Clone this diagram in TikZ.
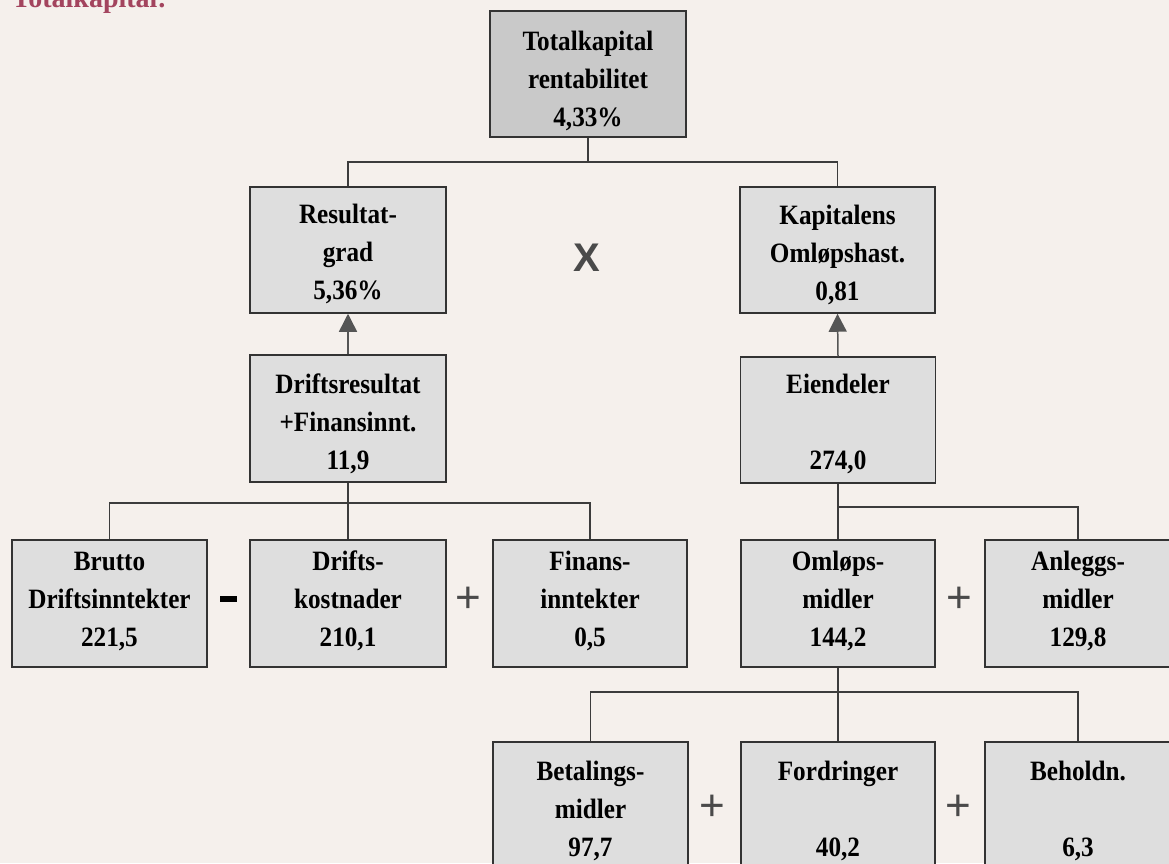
\documentclass[tikz,border=0pt]{standalone}
\usepackage{fontspec}
\setmainfont{Liberation Serif}
\newfontfamily\boxfont[FakeStretch=0.9]{Liberation Serif}
\newfontfamily\opfont{Liberation Sans}
\usetikzlibrary{arrows.meta,calc}
\definecolor{bgc}{HTML}{F5F0EC}
\definecolor{boxfill}{HTML}{DEDEDE}
\definecolor{topfill}{HTML}{C9C9C9}
\definecolor{edgec}{HTML}{333333}
\definecolor{connc}{HTML}{3C3C3C}
\definecolor{arrowc}{HTML}{555555}
\definecolor{opc}{HTML}{4A4A4A}
\definecolor{titlec}{HTML}{A3445E}
\tikzset{
  box/.style={draw=edgec, line width=1.5pt, fill=boxfill, minimum width=195pt, minimum height=126pt, inner sep=0pt},
  txt/.style={align=center, inner sep=0pt, font=\boxfont\bfseries\fontsize{28}{38}\selectfont},
  conn/.style={draw=connc, line width=1.3pt},
  uparrow/.style={draw=arrowc, line width=1.5pt, -{Triangle[width=18pt,length=18pt]}, arrowc},
  op/.style={text=opc, inner sep=0pt, font=\opfont\fontsize{44}{44}\selectfont},
}
\begin{document}
\begin{tikzpicture}[x=1pt,y=-1pt]
\fill[bgc] (0,0) rectangle (1169,863);
\useasboundingbox (0,0) rectangle (1169,863);

\node[anchor=base west, inner sep=0pt, text=titlec, font=\bfseries\fontsize{28}{30}\selectfont] (title) at (12,7) {Totalkapital:};

% boxes
\node[box, fill=topfill, minimum width=196pt] (top) at (588,74) {};
\node[box, minimum width=196pt] (res) at (348,250) {};
\node[box] (kap) at (837.5,250) {};
\node[box, minimum width=196pt, minimum height=127pt] (drift) at (348,418.5) {};
\node[box] (eien) at (838,420) {};
\node[box, minimum height=127pt] (brutto) at (109.5,603.5) {};
\node[box, minimum width=196pt, minimum height=127pt] (driftsk) at (348,603.5) {};
\node[box, minimum width=194pt, minimum height=127pt] (finans) at (590,603.5) {};
\node[box, minimum width=194pt, minimum height=127pt] (omlop) at (838,603.5) {};
\node[box, minimum width=186pt, minimum height=127pt] (anlegg) at (1078,603.5) {};
\node[box] (betal) at (590.5,805) {};
\node[box, minimum width=194pt] (fordr) at (838,805) {};
\node[box, minimum width=186pt] (behold) at (1078,805) {};

% texts
\node[txt] (topt) at (588,81) {Totalkapital\\rentabilitet\\4,33\%};
\node[txt] (rest) at (348,254) {Resultat-\\grad\\5,36\%};
\node[txt] (kapt) at (837.5,255) {Kapitalens\\Omløpshast.\\0,81};
\node[txt] (driftt) at (348,424) {Driftsresultat\\+Finansinnt.\\11,9};
\node[txt] (eient) at (838,424) {Eiendeler\\\mbox{}\\274,0};
\node[txt] (bruttot) at (109.5,601) {Brutto\\Driftsinntekter\\221,5};
\node[txt] (driftskt) at (348,601) {Drifts-\\kostnader\\210,1};
\node[txt] (finanst) at (590,601) {Finans-\\inntekter\\0,5};
\node[txt] (omlopt) at (838,601) {Omløps-\\midler\\144,2};
\node[txt] (anleggt) at (1078,601) {Anleggs-\\midler\\129,8};
\node[txt] (betalt) at (590.5,811) {Betalings-\\midler\\97,7};
\node[txt] (fordrt) at (838,811) {Fordringer\\\mbox{}\\40,2};
\node[txt] (beholdt) at (1078,811) {Beholdn.\\\mbox{}\\6,3};

% operators
\node[op, font=\opfont\bfseries\fontsize{40}{40}\selectfont] (times) at (587,258) {X};
\node[fill=black, minimum width=17pt, minimum height=6pt, inner sep=0pt] (minus) at (228.5,599) {};
\node[op] (plus1) at (468,600) {+};
\node[op] (plus2) at (959,600) {+};
\node[op] (plus3) at (712,808) {+};
\node[op] (plus4) at (958,808) {+};

% connectors
\coordinate (j1) at (0,162);
\coordinate (j2) at (0,503);
\coordinate (j3) at (0,507);
\coordinate (j4) at (0,692);
\draw[conn] (top.south) -- (top.south |- j1);
\draw[conn] (res.north) -- (res.north |- j1) -- (kap.north |- j1) -- (kap.north);
\draw[conn] (drift.south) -- (driftsk.north);
\draw[conn] (brutto.north) -- (brutto.north |- j2) -- (finans.north |- j2) -- (finans.north);
\draw[conn] (eien.south) -- (omlop.north);
\draw[conn] (omlop.north |- j3) -- (anlegg.north |- j3) -- (anlegg.north);
\draw[conn] (omlop.south) -- (fordr.north);
\draw[conn] (betal.north) -- (betal.north |- j4) -- (behold.north |- j4) -- (behold.north);

% arrows
\draw[uparrow] (drift.north) -- (res.south);
\draw[uparrow] (eien.north) -- (kap.south);
\end{tikzpicture}
\end{document}
